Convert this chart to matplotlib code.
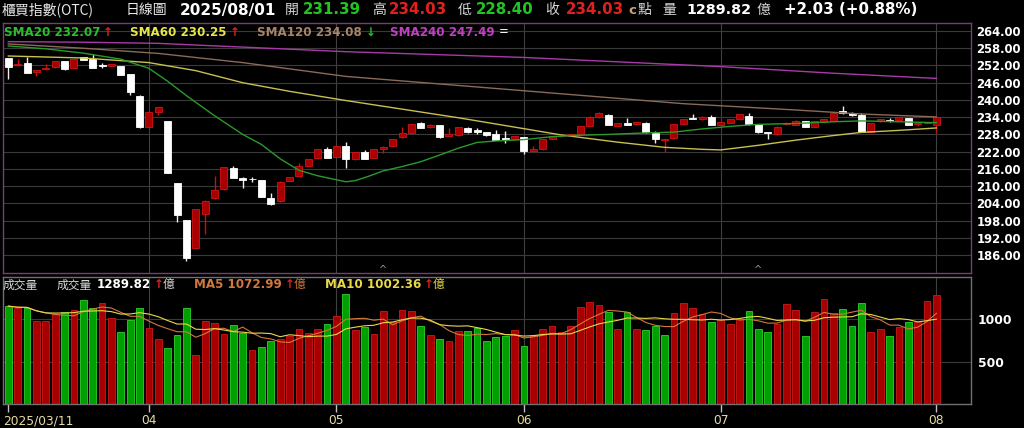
import numpy as np
import pandas as pd
import matplotlib
matplotlib.use("Agg")
import matplotlib.pyplot as plt
from matplotlib.transforms import blended_transform_factory

CJK = ["Noto Sans CJK TC", "DejaVu Sans"]
NUM = ["DejaVu Sans"]
plt.rcParams["font.family"] = CJK
plt.rcParams["axes.unicode_minus"] = False

# 櫃買指數 日K, 2025/03/11 ~ 2025/08/01 (100 trading days)
month_ticks = [0, 15, 35, 55, 76, 99]
month_labels = ["2025/03/11", "04", "05", "06", "07", "08"]

opens = [254.5, 252.0, 252.7, 249.6, 250.6, 251.3, 253.4, 251.1, 254.8, 254.1,
         252.1, 251.8, 251.8, 248.9, 241.5, 230.7, 235.9, 232.5, 211.0, 198.2,
         188.3, 200.2, 205.7, 208.9, 216.4, 212.7, 212.6, 212.1, 205.7, 204.7,
         211.8, 213.6, 217.1, 219.7, 222.8, 220.3, 224.1, 219.3, 221.8, 219.9,
         222.8, 224.0, 227.0, 228.5, 231.9, 230.5, 231.2, 227.6, 227.7, 230.3,
         229.4, 228.9, 228.0, 226.9, 226.4, 227.1, 222.2, 222.8, 226.4, 227.3,
         227.7, 228.0, 231.0, 233.9, 234.9, 231.0, 231.9, 231.6, 232.1, 228.6,
         225.9, 226.6, 231.5, 233.6, 233.2, 233.9, 231.4, 232.1, 233.2, 234.4,
         231.5, 228.7, 228.0, 231.5, 231.4, 232.5, 230.7, 232.2, 232.8, 236.1,
         235.3, 234.8, 229.0, 232.5, 233.1, 233.0, 233.6, 231.5, 231.9, 231.39]
highs = [254.7, 254.1, 255.1, 250.3, 252.5, 253.5, 253.6, 254.4, 255.1, 255.9,
         252.7, 252.6, 251.9, 249.0, 241.6, 235.9, 237.5, 232.6, 211.1, 198.3,
         202.1, 205.1, 213.5, 216.6, 217.0, 213.1, 213.3, 212.2, 207.7, 211.8,
         213.1, 217.9, 219.4, 222.9, 223.7, 224.1, 225.5, 221.9, 222.6, 223.0,
         223.8, 226.5, 230.5, 231.7, 232.4, 231.5, 231.3, 230.1, 230.6, 230.5,
         230.3, 229.0, 229.4, 229.3, 227.5, 227.2, 223.8, 226.4, 227.4, 227.8,
         228.2, 231.0, 234.3, 235.9, 235.0, 232.0, 233.8, 232.4, 232.2, 229.2,
         226.4, 231.6, 233.3, 235.1, 234.3, 234.8, 232.4, 233.3, 235.1, 235.6,
         231.6, 228.8, 230.8, 232.2, 232.9, 232.6, 232.6, 233.3, 235.7, 237.9,
         235.9, 235.3, 232.0, 233.3, 233.6, 234.0, 233.7, 232.0, 232.3, 234.03]
lows = [247.2, 251.9, 249.3, 248.3, 250.5, 251.2, 250.5, 251.0, 253.8, 251.1,
        251.2, 251.7, 248.7, 241.7, 230.4, 230.6, 234.7, 214.4, 197.6, 184.0,
        188.2, 193.3, 205.6, 208.8, 212.7, 209.5, 211.5, 206.2, 203.5, 204.6,
        211.7, 213.5, 217.0, 219.6, 219.8, 220.2, 216.3, 219.2, 219.5, 219.8,
        221.4, 223.9, 226.9, 228.4, 230.2, 230.4, 226.9, 227.5, 227.6, 228.6,
        228.2, 227.6, 225.9, 225.1, 226.3, 221.1, 222.1, 222.7, 226.3, 227.1,
        227.5, 227.9, 230.9, 233.8, 231.2, 230.9, 231.1, 231.5, 228.6, 225.1,
        222.0, 226.5, 231.4, 233.3, 233.1, 231.2, 231.3, 232.0, 233.1, 231.4,
        228.6, 226.3, 227.9, 231.4, 231.3, 230.6, 230.6, 232.1, 232.7, 235.2,
        234.5, 228.9, 228.9, 232.4, 232.2, 232.9, 231.2, 231.0, 231.8, 228.40]
closes = [251.6, 252.5, 249.4, 250.3, 251.2, 253.4, 250.6, 254.2, 253.9, 251.2,
          251.9, 252.5, 248.8, 242.9, 230.5, 235.8, 237.4, 214.4, 199.9, 184.9,
          202.0, 204.9, 208.5, 216.5, 212.8, 212.2, 212.3, 206.3, 203.6, 211.5,
          213.0, 217.0, 219.3, 222.8, 219.9, 224.0, 219.3, 221.8, 219.6, 222.9,
          223.5, 226.4, 228.4, 231.6, 230.3, 231.4, 227.0, 228.3, 230.5, 228.8,
          228.7, 227.8, 226.1, 226.0, 227.4, 222.1, 223.0, 226.3, 227.3, 227.6,
          228.0, 230.9, 234.2, 235.3, 231.3, 231.9, 231.2, 232.3, 228.7, 226.5,
          226.3, 231.5, 233.2, 233.4, 234.2, 231.3, 232.3, 233.2, 235.0, 231.5,
          228.7, 228.4, 230.7, 232.1, 232.8, 230.7, 232.5, 233.2, 235.6, 235.3,
          234.6, 229.0, 231.9, 233.2, 232.8, 233.9, 231.3, 231.9, 232.0, 234.03]
volumes = [1155, 1128, 1136, 978, 978, 1061, 1081, 1104, 1222, 1128,
           1187, 1018, 849, 990, 1132, 896, 766, 656, 813, 1128,
           574, 978, 955, 829, 935, 841, 640, 676, 746, 762,
           805, 880, 833, 888, 939, 1037, 1297, 872, 912, 825,
           1100, 963, 1104, 1092, 923, 809, 762, 743, 861, 861,
           892, 743, 794, 802, 869, 684, 813, 880, 919, 853,
           923, 1140, 1199, 1171, 1089, 884, 1081, 884, 872, 919,
           813, 1077, 1194, 1128, 1057, 970, 990, 939, 998, 1096,
           884, 853, 939, 1179, 1108, 802, 1081, 1234, 1069, 1116,
           919, 1194, 853, 884, 806, 912, 970, 963, 1214, 1289.82]

# moving averages of the index (they need earlier history)
sma20_idx = [0, 4, 8, 12, 15, 17, 19, 22, 25, 27, 29, 31, 33, 36, 37, 38.5, 40, 42, 44,
             46, 48, 50, 52, 55, 58, 60, 64, 67, 71, 74, 77, 80, 84, 88, 91, 95, 99]
sma20_val = [258.8, 257.8, 256.3, 254.2, 251.0, 246.5, 241.5, 234.5, 228.0, 224.5, 219.5,
             215.5, 213.6, 211.5, 211.9, 213.5, 215.3, 216.8, 218.5, 220.8, 223.2, 225.2,
             225.7, 226.2, 227.2, 227.6, 228.0, 228.4, 228.8, 229.9, 230.8, 231.5, 231.8,
             232.4, 232.7, 232.4, 232.07]
sma60_idx = [0, 8, 15, 20, 25, 30, 36, 48, 55, 59, 65, 70, 74, 76, 80, 84, 88, 91, 95, 99]
sma60_val = [255.3, 254.6, 253.0, 250.2, 246.0, 243.0, 239.8, 233.8, 230.0, 227.8,
             225.3, 223.5, 222.8, 222.6, 224.2, 226.0, 227.6, 228.7, 229.4, 230.25]
sma120_idx = [0, 8, 16, 25, 36, 55, 72, 84, 91, 99]
sma120_val = [259.5, 258.0, 256.2, 253.0, 248.2, 243.2, 238.7, 236.5, 235.1, 234.08]
sma240_idx = [0, 8, 16, 36, 55, 72, 76, 88, 99]
sma240_val = [260.3, 260.1, 259.7, 256.8, 254.8, 252.2, 251.6, 249.3, 247.49]

signal_idx = [40, 80]

price_ticks = list(range(186, 265, 6))
vol_ticks = [500, 1000]

RED = "#e02020"
GREEN = "#22c322"
BG = "black"

o = np.array(opens)
h = np.array(highs)
l = np.array(lows)
c = np.array(closes)
v = np.array(volumes, dtype=float)
x = np.arange(len(c))

W, H = 1024, 428
fig = plt.figure(figsize=(W / 100, H / 100), dpi=100, facecolor=BG)


def fx(px):
    return px / W


def fy(py):
    return 1 - py / H


ax = fig.add_axes([fx(3), fy(273), fx(968), 250 / H], facecolor=BG)
axv = fig.add_axes([fx(3), fy(404), fx(968), 127 / H], facecolor=BG)

xlim = (-0.565, 102.69)
for a in (ax, axv):
    a.set_xlim(*xlim)
    for t in month_ticks[1:]:
        a.axvline(t, color="#404040", lw=0.8, zorder=0)

# ---- price panel ----
ax.set_ylim(179.74, 266.79)
for p in price_ticks:
    ax.axhline(p, color="#3a3a3a", lw=0.8, zorder=0)

up = c >= o
body_lo = np.minimum(o, c)
body_h = np.maximum(np.abs(c - o), 0.3)
wick_col = np.where(up, "#c81010", "#f0f0f0")
ax.vlines(x, l, h, colors=wick_col, lw=1.0, zorder=2)
ax.bar(x[up], body_h[up], bottom=body_lo[up], width=0.74,
       color="#a80000", edgecolor="#d01515", lw=0.6, zorder=3)
ax.bar(x[~up], body_h[~up], bottom=body_lo[~up], width=0.74,
       color="#ffffff", edgecolor="#ffffff", lw=0.6, zorder=3)

ax.plot(sma240_idx, sma240_val, color="#a83aa8", lw=1.0, zorder=4)
ax.plot(sma120_idx, sma120_val, color="#8a6a58", lw=1.0, zorder=4)
ax.plot(sma60_idx, sma60_val, color="#c8c050", lw=1.0, zorder=4)
ax.plot(sma20_idx, sma20_val, color="#2a9a2a", lw=1.0, zorder=4)

for i in signal_idx:
    ax.text(i, 180.9, "^", color="#7fae7f", fontsize=7, ha="center", va="center",
            family=NUM, zorder=5)

ax.yaxis.tick_right()
ax.set_yticks(price_ticks)
ax.set_yticklabels([f"{p:.2f}" for p in price_ticks])
ax.tick_params(axis="y", length=0, pad=4, labelcolor="white", labelsize=8.4)
for lab in ax.get_yticklabels():
    lab.set_fontweight("bold")
    lab.set_family(NUM)
ax.set_xticks([])
for s in ax.spines.values():
    s.set_color("#7a3d70")
    s.set_linewidth(1.0)

# ---- volume panel ----
prev = np.concatenate([[o[0]], c[:-1]])
vol_up = c >= prev
vol_face = np.where(vol_up, "#a80000", "#00a000")
vol_edge = np.where(vol_up, "#cc1a1a", "#30d030")
axv.bar(x, v, width=0.72, color=vol_face, edgecolor=vol_edge, lw=0.6, zorder=2)
ma5 = pd.Series(v).rolling(5, min_periods=1).mean()
ma10 = pd.Series(v).rolling(10, min_periods=1).mean()
axv.plot(x, ma5, color="#d2783c", lw=0.8, zorder=3)
axv.plot(x, ma10, color="#e8d84a", lw=0.8, zorder=3)
axv.set_ylim(0, 1498)
for t in vol_ticks:
    axv.axhline(t, color="#3a3a3a", lw=0.8, zorder=0)
axv.yaxis.tick_right()
axv.set_yticks(vol_ticks)
axv.set_yticklabels([str(t) for t in vol_ticks])
axv.tick_params(axis="y", length=0, pad=5, labelcolor="white", labelsize=8.8)
for lab in axv.get_yticklabels():
    lab.set_fontweight("bold")
    lab.set_family(NUM)
axv.set_xticks(month_ticks)
axv.set_xticklabels([])
axv.tick_params(axis="x", length=6, width=1, color="#c0c0c0", direction="out")
tr = blended_transform_factory(axv.transData, fig.transFigure)
for i, (t, s) in enumerate(zip(month_ticks, month_labels)):
    axv.text(t - (0.55 if i == 0 else 0), fy(421), s, transform=tr,
             ha="left" if i == 0 else "center", va="center",
             color="#e8dca0", fontsize=8.8, family=NUM)
for s in axv.spines.values():
    s.set_color("#707070")
    s.set_linewidth(1.0)

# ---- header ----
chg = c[-1] - c[-2]
pct = chg / c[-2] * 100


def txt(px, py, s, color="white", size=10, bold=False, family=CJK):
    fig.text(fx(px), fy(py), s, color=color, fontsize=size, va="center", ha="left",
             fontweight="bold" if bold else "normal", family=family)


txt(2, 10, "櫃買指數(OTC)", "#e8e8e8", 10)
txt(126, 10, "日線圖", "#e8e8e8", 10)
txt(180, 10, "2025/08/01", "white", 11.0, True, NUM)
txt(285, 10, "開", "#d8d8d8", 10)
txt(303, 10, f"{o[-1]:.2f}", GREEN, 10.8, True, NUM)
txt(372, 10, "高", "#d8d8d8", 10)
txt(389, 10, f"{h[-1]:.2f}", RED, 10.8, True, NUM)
txt(458, 10, "低", "#d8d8d8", 10)
txt(476, 10, f"{l[-1]:.2f}", GREEN, 10.8, True, NUM)
txt(545, 10, "收", "#d8d8d8", 10)
txt(566, 10, f"{c[-1]:.2f}", RED, 10.8, True, NUM)
txt(628, 10, "c", "#c8a070", 9.5, True, NUM)
txt(637, 10, "點", "#d8d8d8", 10)
txt(662, 10, "量", "#d8d8d8", 10)
txt(686, 10, f"{v[-1]:.2f}", "white", 10.3, True, NUM)
txt(757, 10, "億", "#d8d8d8", 10)
txt(784, 10, f"{chg:+.2f} ({pct:+.2f}%)", "white", 10.8, True, NUM)

# ---- SMA legend ----
ly = 32
txt(4, ly, f"SMA20 {sma20_val[-1]:.2f}", "#2ebd2e", 8.6, True, NUM)
txt(103, ly, "↑", RED, 8.6, True, NUM)
txt(130, ly, f"SMA60 {sma60_val[-1]:.2f}", "#e6e64a", 8.6, True, NUM)
txt(230, ly, "↑", RED, 8.6, True, NUM)
txt(257, ly, f"SMA120 {sma120_val[-1]:.2f}", "#a88468", 8.6, True, NUM)
txt(366, ly, "↓", "#22c322", 8.6, True, NUM)
txt(390, ly, f"SMA240 {sma240_val[-1]:.2f}", "#c040c0", 8.6, True, NUM)
txt(499, ly, "=", "white", 8.6, False, NUM)

# ---- volume legend ----
vy = 285
txt(3, vy, "成交量", "#d8d8d8", 8.5)
txt(57, vy, "成交量", "#d8d8d8", 8.5)
txt(97, vy, f"{v[-1]:.2f}", "white", 8.6, True, NUM)
txt(154, vy, "↑", RED, 8.6, True, NUM)
txt(163, vy, "億", "#d8d8d8", 8.5)
txt(194, vy, "MA5 1072.99", "#d2783c", 8.6, True, NUM)
txt(285, vy, "↑", RED, 8.6, True, NUM)
txt(294, vy, "億", "#d2783c", 8.5)
txt(325, vy, "MA10 1002.36", "#e8d84a", 8.6, True, NUM)
txt(424, vy, "↑", RED, 8.6, True, NUM)
txt(433, vy, "億", "#e8d84a", 8.5)

fig.savefig("out.png", dpi=100, facecolor=BG)
